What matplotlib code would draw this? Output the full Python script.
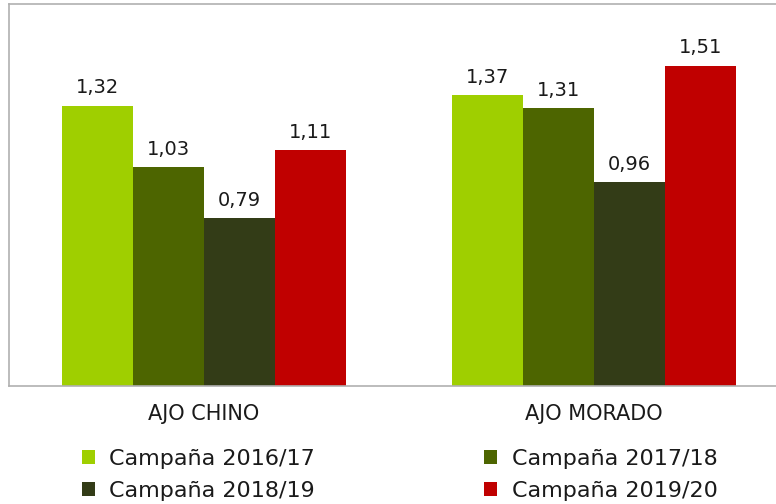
import numpy as np
import matplotlib
matplotlib.use('Agg')
import matplotlib.pyplot as plt
from matplotlib.patches import Patch

categories = ['AJO CHINO', 'AJO MORADO']
series = ['Campaña 2016/17', 'Campaña 2017/18', 'Campaña 2018/19', 'Campaña 2019/20']
values = {
    'Campaña 2016/17': [1.32, 1.37],
    'Campaña 2017/18': [1.03, 1.31],
    'Campaña 2018/19': [0.79, 0.96],
    'Campaña 2019/20': [1.11, 1.51],
}
colors = ['#9fcf00', '#4d6500', '#333c17', '#c00000']

plt.rcParams['font.family'] = ['DejaVu Sans']
text_color = '#1a1a1a'

fig = plt.figure(figsize=(7.76, 5.04), dpi=100)
ax = fig.add_axes([0.0116, 0.234, 1.005, 0.758])

x = np.arange(len(categories))
width = 0.182
for i, (name, col) in enumerate(zip(series, colors)):
    pos = x + (i - 1.5) * width
    bars = ax.bar(pos, values[name], width, color=col, edgecolor='none')
    for b, v in zip(bars, values[name]):
        ax.text(b.get_x() + b.get_width() / 2, v + 0.04, f'{v:.2f}'.replace('.', ','),
                ha='center', va='bottom', fontsize=14, color=text_color)

ax.set_xlim(-0.5, 1.5)
ax.set_ylim(0, 1.8)
ax.set_yticks([])
ax.set_xticks(x)
ax.set_xticklabels(categories, fontsize=15, color=text_color)
ax.tick_params(axis='x', length=0, pad=13)
for s in ['left', 'top', 'bottom', 'right']:
    ax.spines[s].set_color('#b0b0b0')
    ax.spines[s].set_linewidth(1.2)

order = [0, 2, 1, 3]
handles = [Patch(facecolor=colors[i], label=series[i]) for i in order]
fig.legend(handles=handles, loc='lower center', bbox_to_anchor=(0.515, -0.034), ncol=2,
           frameon=False, fontsize=16, handlelength=0.6, handleheight=0.6,
           handletextpad=0.65, columnspacing=7.6, labelspacing=0.54, labelcolor=text_color)

fig.savefig('out.png', dpi=100)
